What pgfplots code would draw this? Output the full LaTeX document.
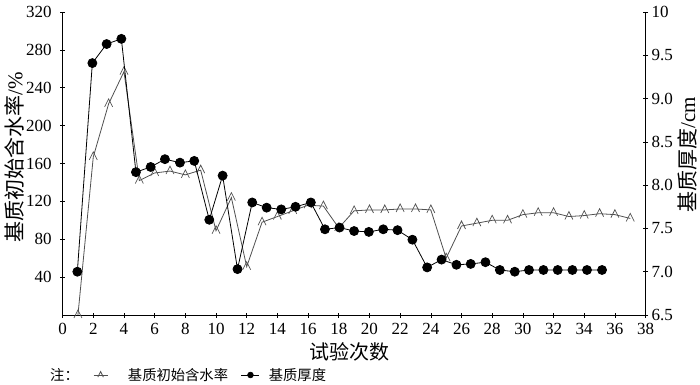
\documentclass[border=0pt]{standalone}
\usepackage{fontspec}
\setmainfont{Liberation Serif}
\newfontfamily\cjk{Noto Sans CJK SC}
\usepackage{pgfplots}
\pgfplotsset{compat=1.18}
\definecolor{trigray}{HTML}{505050}
\pgfdeclareplotmark{caret}{%
  \pgfpathmoveto{\pgfqpoint{-0.8\pgfplotmarksize}{-0.6\pgfplotmarksize}}%
  \pgfpathlineto{\pgfqpoint{0pt}{\pgfplotmarksize}}%
  \pgfpathlineto{\pgfqpoint{0.8\pgfplotmarksize}{-0.6\pgfplotmarksize}}%
  \pgfusepathqstroke}
\pgfplotsset{
  myaxis/.style={
    scale only axis, width=583pt, height=303pt,
    xmin=0, xmax=38,
    tick align=inside, major tick length=5pt,
    tick style={black, line width=0.6pt},
    axis line style={black, line width=0.6pt},
    ticklabel style={font=\rmfamily\fontsize{17}{17}\selectfont},
    /pgf/number format/assume math mode=true,
  },
  legtri/.style={legend image code/.code={\draw[##1] (0pt,0pt) -- (14pt,0pt); \draw[##1] plot coordinates {(7pt,0pt)};}},
  legcirc/.style={legend image code/.code={\draw[##1] (0pt,0pt) -- (18pt,0pt); \draw[##1] plot coordinates {(9pt,0pt)};}},
}
\begin{document}
\begin{tikzpicture}[x=1pt,y=1pt]
\useasboundingbox (0,0) rectangle (700,384);
\node[anchor=west, inner sep=0pt, font=\cjk\fontsize{14.3}{14.3}\selectfont] at (50,9) {注：};
\begin{axis}[myaxis,
  at={(62.6pt,69pt)}, anchor=south west,
  axis x line=bottom, axis y line=left,
  x axis line style={-}, y axis line style={-},
  ymin=0, ymax=320,
  xtick={0,2,...,38},
  ytick={40,80,...,320},
  xticklabel style={yshift=-2pt},
  yticklabel style={xshift=-5pt},
  xlabel={\cjk 试验次数},
  xlabel style={font=\fontsize{20}{20}\selectfont, at={(axis description cs:0.492,-0.122)}, anchor=center},
  ylabel={{\cjk 基质初始含水率}/\%},
  ylabel style={font=\fontsize{21}{21}\selectfont, at={(axis description cs:-0.083,0.52)}, anchor=center, rotate=0},
]
\addplot[trigray, line width=0.8pt, mark=caret, mark size=5pt, mark options={line width=0.7pt}] coordinates {
(1,0) (2,167) (3,223) (4,257) (5,142) (6,150) (7,152) (8,148) (9,153) (10,89)
(11,124) (12,51) (13,98) (14,104) (15,110) (16,116) (17,115) (18,92) (19,110) (20,111)
(21,111) (22,112) (23,112) (24,111) (25,60) (26,94) (27,97) (28,100) (29,100) (30,106)
(31,108) (32,108) (33,104) (34,105) (35,107) (36,106) (37,102)
};
\end{axis}
\begin{axis}[myaxis,
  at={(62.6pt,69pt)}, anchor=south west,
  axis x line=none, axis y line=right,
  y axis line style={-},
  ymin=6.5, ymax=10,
  ytick={6.5,7,7.5,8,8.5,9,9.5,10},
  yticklabels={6.5,7.0,7.5,8.0,8.5,9.0,9.5,10},
  ylabel={{\cjk 基质厚度}/cm},
  ylabel style={font=\fontsize{21}{21}\selectfont, at={(axis description cs:1.071,0.528)}, anchor=center, rotate=0},
  legend style={draw=none, fill=none, at={(axis description cs:0.0521,-0.198)}, anchor=west,
    font=\cjk\fontsize{14.3}{14.3}\selectfont, inner xsep=0pt, inner ysep=0pt,
    nodes={inner sep=0pt},
    /tikz/column 1/.style={column sep=20pt},
    /tikz/column 2/.style={column sep=13pt},
    /tikz/column 3/.style={column sep=9pt}},
  legend columns=-1,
]
\addplot[black, line width=0.8pt, mark=*, mark size=4.5pt, forget plot] coordinates {
(0.96,7.00) (1.94,9.41) (2.87,9.63) (3.83,9.69) (4.78,8.15) (5.74,8.21) (6.67,8.30) (7.65,8.26)
(8.58,8.28) (9.56,7.60) (10.43,8.11) (11.40,7.03) (12.36,7.80) (13.30,7.74) (14.25,7.72)
(15.18,7.75) (16.18,7.80) (17.10,7.49) (18.05,7.51) (19.00,7.47) (19.96,7.46) (20.90,7.49)
(21.83,7.48) (22.80,7.37) (23.76,7.05) (24.70,7.14) (25.67,7.08) (26.60,7.09) (27.56,7.11)
(28.50,7.02) (29.47,7.00) (30.40,7.02) (31.34,7.02) (32.27,7.02) (33.23,7.02) (34.18,7.02)
(35.16,7.02)
};
\addlegendimage{trigray, line width=0.8pt, mark=caret, mark size=3.5pt, legtri}
\addlegendentry{基质初始含水率}
\addlegendimage{black, line width=0.8pt, mark=*, mark size=2.8pt, legcirc}
\addlegendentry{基质厚度}
\end{axis}
\end{tikzpicture}
\end{document}
